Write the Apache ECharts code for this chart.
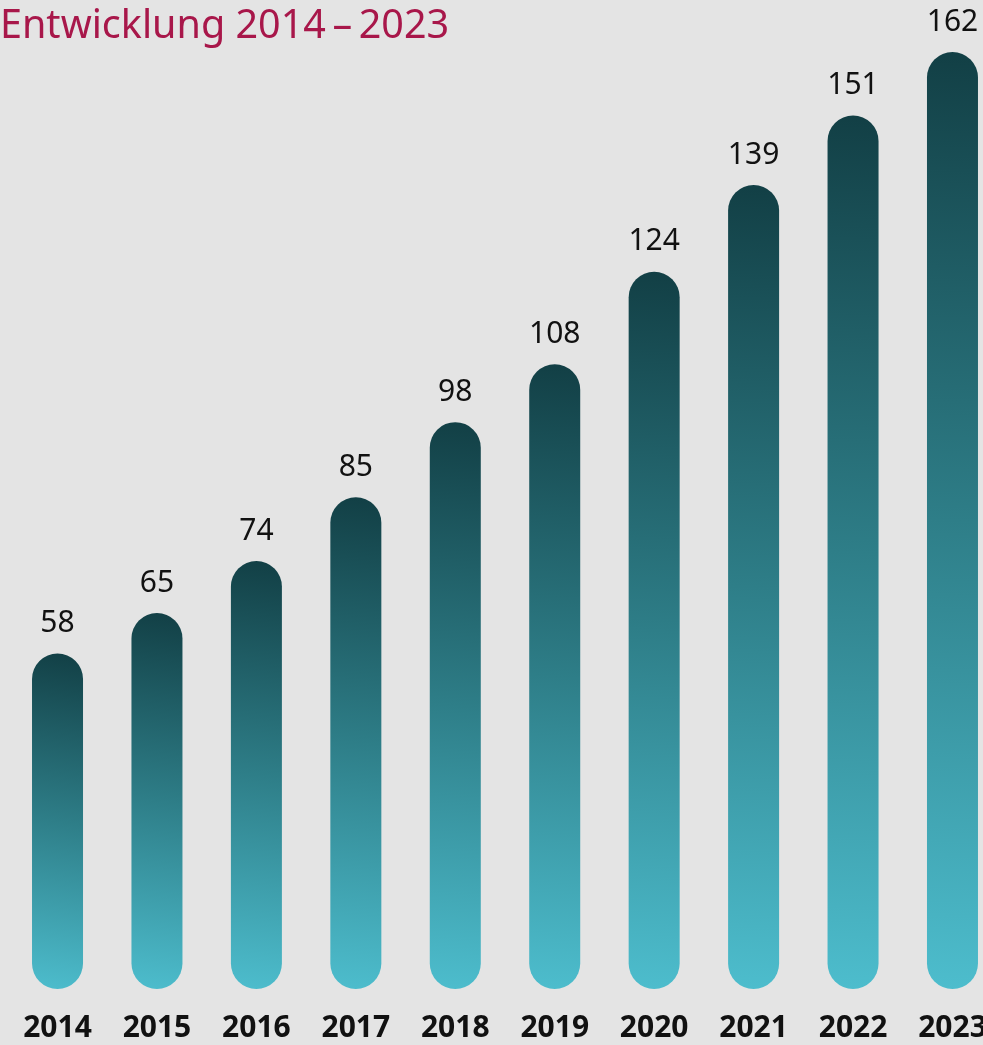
<!DOCTYPE html>
<html><head><meta charset="utf-8">
<script src="https://cdn.jsdelivr.net/npm/echarts@6/dist/echarts.min.js"></script>
<style>html,body{margin:0;padding:0;background:#e4e4e4;}#c{width:983px;height:1045px;}</style>
</head><body><div id="c"></div>
<script>
const titleText = 'Entwicklung 2014\u2009\u2013\u20092023';
const years = ['2014','2015','2016','2017','2018','2019','2020','2021','2022','2023'];
const values = [58, 65, 74, 85, 98, 108, 124, 139, 151, 162];

const chart = echarts.init(document.getElementById('c'));
chart.setOption({
  backgroundColor: '#e4e4e4',
  animation: false,
  title: {
    text: titleText, left: 0, top: 7, padding: 0,
    textStyle: { fontFamily: 'Noto Sans', fontSize: 39.5, fontWeight: 'normal', color: '#a8174a' }
  },
  grid: { left: 7.8, width: 994.4, top: 52, bottom: 56, containLabel: false, outerBoundsMode: 'none' },
  xAxis: {
    type: 'category', data: years,
    axisLine: { show: false }, axisTick: { show: false },
    axisLabel: { margin: 24, fontFamily: 'Noto Sans', fontSize: 30, fontWeight: 'bold', color: '#111' }
  },
  yAxis: { type: 'value', min: 0, max: 162, show: false, splitLine: { show: false } },
  series: [{
    type: 'bar', data: values, barWidth: 51,
    itemStyle: {
      borderRadius: 25.5,
      color: new echarts.graphic.LinearGradient(1, 0, 0, 1, [
        { offset: 0, color: '#123f45' },
        { offset: 0.5, color: '#2e7e88' },
        { offset: 1, color: '#4dbdcd' }
      ])
    },
    label: { show: true, position: 'top', distance: 15, fontFamily: 'Noto Sans', fontSize: 30, color: '#111' }
  }]
});
</script></body></html>
